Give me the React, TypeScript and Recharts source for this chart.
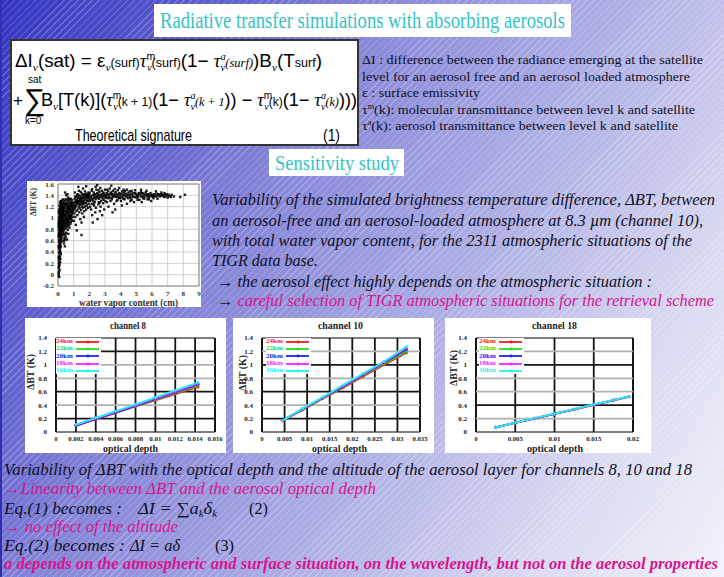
import React from 'react';
import {
  ScatterChart, Scatter, LineChart, Line, XAxis, YAxis, CartesianGrid,
  ReferenceLine, ReferenceArea, Legend,
} from 'recharts';

const SERIF = '"Liberation Serif", "DejaVu Serif", serif';
const SANS = '"Liberation Sans", Arial, sans-serif';
const PINK = '#d8148f';
const INK = '#101024';
const TEAL = '#35c4c4';

// ---------- scatter: ΔBT vs water vapor content ----------
const wvPoints: [number, number][] = [
  [0.05,0.02],[0.08,-0.04],[0.06,0.12],[0.1,0.18],[0.07,0.25],[0.12,0.31],[0.09,0.38],[0.14,0.42],[0.06,0.47],[0.11,0.52],
  [0.16,0.55],[0.08,0.58],[0.13,0.61],[0.19,0.63],[0.05,0.66],[0.1,0.68],[0.15,0.7],[0.21,0.72],[0.07,0.74],[0.12,0.76],
  [0.18,0.77],[0.24,0.79],[0.09,0.8],[0.14,0.82],[0.2,0.83],[0.27,0.84],[0.06,0.86],[0.11,0.87],[0.17,0.88],[0.23,0.9],
  [0.3,0.9],[0.08,0.92],[0.13,0.93],[0.19,0.94],[0.26,0.95],[0.33,0.96],[0.1,0.97],[0.15,0.98],[0.22,0.99],[0.29,1.0],
  [0.07,1.01],[0.12,1.02],[0.18,1.03],[0.25,1.04],[0.32,1.05],[0.09,1.06],[0.14,1.07],[0.21,1.08],[0.28,1.09],[0.35,1.1],
  [0.11,1.11],[0.17,1.12],[0.24,1.13],[0.31,1.14],[0.08,1.15],[0.15,1.16],[0.22,1.17],[0.3,1.18],[0.13,1.2],[0.2,1.21],
  [0.27,1.22],[0.18,1.24],[0.25,1.26],[0.34,1.27],[0.16,1.29],[0.1,0.85],[0.16,0.9],[0.2,0.75],[0.13,0.71],[0.06,0.79],
  [0.22,0.65],[0.17,0.6],[0.09,0.53],[0.15,0.48],[0.11,0.44],[0.18,0.36],[0.08,0.33],[0.13,0.22],[0.1,0.08],[0.07,0.15],
  [0.04,0.9],[0.05,1.1],[0.04,0.7],[0.05,0.5],[0.04,0.3],[0.06,0.2],[0.2,0.98],[0.26,1.12],[0.23,0.86],[0.28,0.97],
  [0.31,1.2],[0.19,1.15],[0.12,0.95],[0.16,1.05],[0.09,1.13],[0.14,0.78],[0.21,0.92],[0.26,0.8],[0.33,0.88],[0.29,1.25],
  [0.37,1.18],[0.35,0.94],[0.24,0.68],[0.18,0.5],[0.12,0.57],[0.07,0.4],[0.15,0.28],[0.2,0.58],[0.3,0.72],[0.05,-0.02],
  [0.06,0.95],[0.08,1.0],[0.11,0.9],[0.13,0.83],[0.17,0.96],[0.2,1.06],[0.22,1.19],[0.25,0.9],[0.27,1.01],[0.3,1.08],
  [0.32,0.82],[0.09,0.73],[0.14,0.66],[0.19,0.71],[0.23,0.76],[0.07,0.61],[0.12,0.49],[0.16,0.38],[0.1,0.27],[0.06,0.05],
  [0.13,1.27],[0.2,1.3],[0.27,1.31],[0.33,1.33],[0.1,1.22],[0.17,0.81],[0.24,0.96],[0.28,0.88],[0.05,0.84],[0.15,1.1],
  [0.38,0.55],[0.45,0.62],[0.4,0.7],[0.52,0.74],[0.36,0.78],[0.48,0.81],[0.58,0.84],[0.42,0.86],[0.55,0.88],[0.65,0.9],
  [0.39,0.92],[0.5,0.94],[0.62,0.95],[0.72,0.96],[0.44,0.98],[0.57,0.99],[0.68,1.0],[0.8,1.01],[0.37,1.02],[0.49,1.03],
  [0.6,1.04],[0.74,1.05],[0.86,1.06],[0.43,1.07],[0.54,1.08],[0.66,1.09],[0.78,1.1],[0.92,1.1],[0.4,1.12],[0.51,1.13],
  [0.63,1.14],[0.75,1.15],[0.88,1.15],[0.98,1.16],[0.46,1.17],[0.58,1.18],[0.7,1.19],[0.83,1.2],[0.95,1.2],[0.41,1.21],
  [0.53,1.22],[0.65,1.23],[0.77,1.24],[0.9,1.24],[0.48,1.26],[0.6,1.27],[0.72,1.28],[0.85,1.29],[0.56,1.31],[0.69,1.32],
  [0.81,1.34],[0.5,0.67],[0.62,0.79],[0.7,0.87],[0.46,0.9],[0.82,0.93],[0.59,0.97],[0.76,1.12],[0.93,1.02],[0.85,0.98],
  [0.55,1.11],[0.67,1.16],[0.44,1.24],[0.73,0.83],[0.39,0.6],[0.47,0.72],[0.96,1.27],[0.88,1.32],[0.64,1.36],[0.52,1.4],
  [0.34,0.75],[0.41,0.81],[0.47,0.85],[0.53,0.91],[0.61,0.88],[0.67,0.93],[0.71,1.02],[0.77,0.99],[0.84,1.04],[0.9,1.08],
  [0.97,1.12],[0.36,1.25],[0.42,1.3],[0.49,1.33],[0.57,1.24],[0.63,1.19],[0.79,1.17],[0.87,1.21],[0.94,1.17],[0.38,1.15],
  [0.45,1.05],[0.52,1.0],[0.6,1.1],[0.68,1.06],[0.74,1.21],[0.81,1.26],[0.89,1.12],[0.99,1.22],[0.43,0.95],[0.36,0.85],
  [0.41,0.65],[0.33,0.6],[0.44,0.5],[0.58,0.62],[0.66,0.72],[0.79,0.9],[0.91,0.95],[0.71,1.34],[0.6,1.42],[0.45,1.45],
  [1.02,0.95],[1.1,1.02],[1.05,1.08],[1.18,1.12],[1.25,1.15],[1.08,1.18],[1.32,1.2],[1.15,1.22],[1.4,1.23],[1.22,1.25],
  [1.5,1.25],[1.03,1.27],[1.3,1.28],[1.58,1.28],[1.12,1.3],[1.38,1.3],[1.65,1.31],[1.2,1.32],[1.46,1.33],[1.75,1.33],
  [1.07,1.34],[1.28,1.35],[1.55,1.35],[1.85,1.36],[1.16,1.37],[1.42,1.38],[1.7,1.38],[1.95,1.38],[1.35,1.4],[1.62,1.4],
  [1.88,1.41],[1.25,1.42],[1.52,1.43],[1.8,1.43],[1.45,1.46],[1.72,1.47],[1.6,1.52],[1.3,1.55],[1.14,0.88],[1.24,1.05],
  [1.36,1.1],[1.48,1.14],[1.6,1.18],[1.72,1.2],[1.84,1.22],[1.95,1.25],[1.42,0.98],[1.55,1.08],[1.68,1.12],[1.8,1.15],
  [1.92,1.18],[1.2,0.78],[1.5,0.92],[1.65,1.02],[1.78,1.27],[1.9,1.3],[1.33,1.48],[1.08,1.45],[1.98,1.34],[1.5,0.7],
  [1.04,1.15],[1.12,1.2],[1.19,1.26],[1.27,1.3],[1.34,1.25],[1.41,1.33],[1.49,1.36],[1.56,1.3],[1.63,1.35],[1.69,1.42],
  [1.77,1.38],[1.83,1.31],[1.91,1.36],[1.99,1.41],[1.06,1.22],[1.17,1.28],[1.29,1.36],[1.39,1.17],[1.53,1.2],[1.61,1.24],
  [1.74,1.26],[1.86,1.4],[1.94,1.45],[1.1,1.38],[1.22,1.4],[1.45,1.28],[1.57,1.4],[1.67,1.27],
  [2.05,1.2],[2.15,1.25],[2.1,1.32],[2.25,1.3],[2.32,1.36],[2.2,1.4],[2.4,1.33],[2.48,1.38],[2.35,1.42],[2.55,1.35],
  [2.62,1.4],[2.5,1.44],[2.7,1.37],[2.78,1.42],[2.65,1.46],[2.85,1.39],[2.92,1.43],[2.8,1.48],[2.98,1.36],[2.08,1.38],
  [2.28,1.45],[2.45,1.5],[2.6,1.28],[2.75,1.3],[2.9,1.32],[2.12,1.15],[2.3,1.22],[2.42,1.18],[2.58,1.24],[2.72,1.2],
  [2.88,1.26],[2.18,1.05],[2.38,1.1],[2.52,0.98],[2.68,1.12],[2.95,1.15],[2.22,0.92],[2.82,1.05],[2.02,1.44],[2.4,1.55],
  [2.7,1.53],[2.15,1.48],[2.55,1.42],[2.88,1.45],[2.35,1.28],
  [2.03,1.3],[2.12,1.36],[2.22,1.34],[2.31,1.4],[2.43,1.37],[2.53,1.4],[2.63,1.34],[2.74,1.4],[2.84,1.35],[2.96,1.4],
  [2.27,1.25],[2.66,1.27],[2.18,1.51],[2.58,1.49],[2.5,1.58],[1.8,1.56],
  [3.05,1.4],[3.15,1.35],[3.1,1.44],[3.25,1.38],[3.3,1.42],[3.2,1.47],[3.4,1.36],[3.45,1.41],[3.38,1.45],[3.55,1.39],
  [3.6,1.43],[3.5,1.48],[3.7,1.37],[3.75,1.42],[3.68,1.46],[3.85,1.4],[3.9,1.44],[3.82,1.49],[4.0,1.38],[4.05,1.43],
  [4.15,1.4],[4.2,1.45],[4.1,1.47],[4.3,1.39],[4.35,1.43],[4.28,1.48],[4.45,1.41],[4.5,1.45],[4.6,1.38],[4.65,1.43],
  [4.58,1.47],[4.75,1.4],[4.8,1.44],[4.9,1.37],[4.95,1.42],[3.12,1.28],[3.35,1.3],[3.58,1.25],[3.8,1.32],[4.02,1.3],
  [4.25,1.33],[4.48,1.35],[4.7,1.32],[3.22,1.2],[3.65,1.15],[4.08,1.22],[4.4,1.25],[3.48,1.1],[4.85,1.28],[3.3,1.52],
  [3.9,1.53],[4.4,1.5],[3.0,1.5],[4.7,1.48],[3.95,1.35],
  [3.08,1.37],[3.18,1.41],[3.28,1.35],[3.42,1.43],[3.53,1.37],[3.63,1.4],[3.78,1.38],[3.88,1.36],[3.98,1.42],[4.12,1.36],
  [4.23,1.41],[4.38,1.37],[4.53,1.4],[4.63,1.35],[4.78,1.37],[4.92,1.44],[3.02,1.3],[3.44,1.33],[3.74,1.3],[4.18,1.34],
  [4.62,1.3],[3.14,1.5],[3.62,1.51],[4.18,1.5],[4.92,1.49],[3.4,1.57],
  [5.05,1.4],[5.15,1.44],[5.1,1.37],[5.25,1.42],[5.3,1.46],[5.4,1.39],[5.45,1.43],[5.55,1.41],[5.6,1.45],[5.7,1.38],
  [5.75,1.42],[5.85,1.4],[5.9,1.44],[6.0,1.41],[6.05,1.37],[6.15,1.42],[6.2,1.39],[6.3,1.43],[6.4,1.4],[6.5,1.38],
  [6.55,1.42],[6.65,1.39],[6.75,1.41],[6.85,1.38],[6.95,1.4],[7.1,1.39],[7.25,1.41],[7.4,1.38],[5.2,1.32],[5.5,1.34],
  [5.8,1.33],[6.1,1.35],[6.35,1.34],[5.35,1.28],[5.65,1.48],[6.25,1.47],[6.6,1.45],[7.0,1.36],[7.8,1.37],[8.1,1.41],
  [5.95,1.3],[6.8,1.44],
  [5.02,1.36],[5.12,1.41],[5.28,1.38],[5.38,1.44],[5.52,1.37],[5.68,1.41],[5.82,1.37],[5.98,1.39],[6.12,1.4],[6.28,1.38],
  [6.45,1.42],[6.62,1.41],[6.78,1.37],[6.92,1.42],[7.05,1.41],[7.2,1.37],[5.08,1.32],[5.42,1.35],[5.72,1.33],[5.3,1.5],
];
const wvTicks = [0, 1, 2, 3, 4, 5, 6, 7, 8, 9];
const dbtScatterTicks = [-0.2, 0, 0.2, 0.4, 0.6, 0.8, 1, 1.2, 1.4, 1.6];
const scatterData = wvPoints.map(([x, y]) => ({ x, y }));

// ---------- line charts: ΔBT vs optical depth ----------
const altNames = ['24km', '22km', '20km', '18km', '16km'];
const altKeys = ['a24', 'a22', 'a20', 'a18', 'a16'];
const altColors = ['#ff1a1a', '#1ee01e', '#2020ff', '#ff20ff', '#1cf4f4'];
const dbtTicks = [0, 0.2, 0.4, 0.6, 0.8, 1, 1.2, 1.4];

const ch8Depth = [0.002, 0.004, 0.006, 0.008, 0.01, 0.012, 0.0143];
const ch8_24 = [0.10, 0.19, 0.285, 0.38, 0.47, 0.565, 0.67];
const ch8_22 = [0.10, 0.195, 0.29, 0.385, 0.48, 0.58, 0.69];
const ch8_20 = [0.09, 0.19, 0.29, 0.39, 0.49, 0.59, 0.71];
const ch8_18 = [0.105, 0.2, 0.3, 0.4, 0.5, 0.6, 0.72];
const ch8_16 = [0.11, 0.21, 0.31, 0.41, 0.515, 0.62, 0.74];
const ch8Ticks = [0, 0.002, 0.004, 0.006, 0.008, 0.01, 0.012, 0.014, 0.016];

const ch10Depth = [0.0045, 0.009, 0.0135, 0.018, 0.0225, 0.027, 0.032];
const ch10_24 = [0.17, 0.33, 0.5, 0.66, 0.83, 1.0, 1.18];
const ch10_22 = [0.17, 0.335, 0.505, 0.67, 0.845, 1.015, 1.2];
const ch10_20 = [0.17, 0.34, 0.51, 0.68, 0.855, 1.03, 1.23];
const ch10_18 = [0.17, 0.345, 0.515, 0.69, 0.865, 1.04, 1.25];
const ch10_16 = [0.17, 0.35, 0.52, 0.7, 0.875, 1.05, 1.27];
const ch10Ticks = [0, 0.005, 0.01, 0.015, 0.02, 0.025, 0.03, 0.035];

const ch18Depth = [0.0025, 0.005, 0.0075, 0.01, 0.0125, 0.015, 0.0175, 0.0195];
const ch18_24 = [0.07, 0.135, 0.2, 0.27, 0.335, 0.405, 0.47, 0.525];
const ch18_22 = [0.07, 0.137, 0.203, 0.27, 0.337, 0.407, 0.472, 0.527];
const ch18_20 = [0.07, 0.138, 0.204, 0.271, 0.338, 0.408, 0.473, 0.528];
const ch18_18 = [0.07, 0.139, 0.205, 0.272, 0.339, 0.409, 0.474, 0.529];
const ch18_16 = [0.07, 0.14, 0.206, 0.273, 0.34, 0.41, 0.475, 0.53];
const ch18Ticks = [0, 0.005, 0.01, 0.015, 0.02];

const buildRows = (depth: number[], series: number[][]) =>
  depth.map((x, i) => {
    const row: Record<string, number> = { x };
    altKeys.forEach((k, j) => { row[k] = series[j][i]; });
    return row;
  });

const ch8Rows = buildRows(ch8Depth, [ch8_24, ch8_22, ch8_20, ch8_18, ch8_16]);
const ch10Rows = buildRows(ch10Depth, [ch10_24, ch10_22, ch10_20, ch10_18, ch10_16]);
const ch18Rows = buildRows(ch18Depth, [ch18_24, ch18_22, ch18_20, ch18_18, ch18_16]);

const tick7 = { fontSize: 7, fontWeight: 700, fontFamily: SERIF, fill: '#333' };
const tickY = { fontSize: 7, fontWeight: 700, fontFamily: SERIF, fill: '#222' };

const XTick = (p: any) => {
  const s = String(p.payload.value);
  return (
    <text x={p.x} y={p.y + 5} textAnchor="middle" fontSize={7} fontWeight={700} fontFamily={SERIF}
      fill="#222" textLength={s.length * 3.05} lengthAdjust="spacingAndGlyphs">{s}</text>
  );
};

const renderDot = (p: any) => (
  <rect x={p.cx - 1.2} y={p.cy - 1.2} width={2.4} height={2.4} fill="#000" fillOpacity={0.88} />
);

function ScatterPanel() {
  return (
    <ScatterChart width={174} height={126} margin={{ top: 3, right: 2, bottom: 6, left: 1 }}>
      <CartesianGrid stroke="#c4c4c4" strokeWidth={0.8} />
      <XAxis type="number" dataKey="x" domain={[0, 9]} ticks={wvTicks} interval={0}
        axisLine={false} tickLine={false} height={15} tickSize={2} tickMargin={3} tick={tick7} />
      <YAxis type="number" dataKey="y" domain={[-0.2, 1.6]} ticks={dbtScatterTicks} interval={0}
        axisLine={false} tickLine={false} width={30} tickSize={2} tickMargin={2} tick={tick7} />
      <ReferenceArea x1={0} x2={9} y1={-0.2} y2={1.6} fill="none" stroke="#8a8a8a" strokeWidth={1} />
      <Scatter data={scatterData} shape={renderDot} isAnimationActive={false} />
    </ScatterChart>
  );
}

function AltLegend() {
  return (
    <div style={{ background: '#fff', padding: '0 2px 0 0', lineHeight: 1 }}>
      {altNames.map((n, i) => (
        <div key={n} style={{ display: 'flex', alignItems: 'center', height: 7.3 }}>
          <span style={{ color: altColors[i], fontFamily: SERIF, fontWeight: 700, fontSize: 7, width: 17, display: 'inline-block' }}>{n}</span>
          <svg width={23} height={6} style={{ marginLeft: 3, display: 'block' }}>
            <line x1={0} y1={3} x2={23} y2={3} stroke={altColors[i]} strokeWidth={1.8} />
            <circle cx={12} cy={3} r={1.4} fill={altColors[i]} />
          </svg>
        </div>
      ))}
    </div>
  );
}

type PanelProps = {
  rows: Record<string, number>[]; xMax: number; xTicks: number[]; width: number;
  yWidth: number; right: number; darkY: number[]; legendLeft: number;
};

function ChannelPanel({ rows, xMax, xTicks, width, yWidth, right, darkY, legendLeft }: PanelProps) {
  return (
    <LineChart width={width} height={135} data={rows} margin={{ top: 20, right, bottom: 6, left: 0 }}>
      <CartesianGrid horizontal={false} stroke="#151515" strokeWidth={1.8} />
      {dbtTicks.slice(1, -1).map((v) => (
        <ReferenceLine key={v} y={v} stroke={darkY.includes(v) ? '#151515' : '#b0b0b0'} strokeWidth={1.8} />
      ))}
      <ReferenceArea x1={0} x2={xMax} y1={0} y2={1.4} fill="none" stroke="#000" strokeWidth={1} />
      <XAxis type="number" dataKey="x" domain={[0, xMax]} ticks={xTicks} interval={0}
        axisLine={false} tickLine={false} height={15} tickSize={2} tickMargin={2} tick={<XTick />} />
      <YAxis type="number" domain={[0, 1.4]} ticks={dbtTicks} interval={0}
        axisLine={false} tickLine={false} width={yWidth} tickSize={4} tickMargin={5} tick={tickY} />
      <Legend layout="vertical" align="center" verticalAlign="middle" content={() => <AltLegend />}
        wrapperStyle={{ left: legendLeft, top: 20, width: 'auto', height: 'auto' }} />
      {altKeys.map((k, i) => (
        <Line key={k} type="linear" dataKey={k} stroke={altColors[i]} strokeWidth={1.8}
          dot={{ r: 1.2, fill: altColors[i], stroke: altColors[i], strokeWidth: 0.5 }}
          isAnimationActive={false} />
      ))}
    </LineChart>
  );
}

// ---------- text helpers ----------
type TP = {
  x: number; y: number; w?: number; size: number; fill?: string; italic?: boolean;
  bold?: boolean; family?: string; children: React.ReactNode; rotate?: boolean;
};
function T({ x, y, w, size, fill = INK, italic, bold, family = SERIF, children, rotate }: TP) {
  return (
    <text x={x} y={y} fontSize={size} fill={fill} fontFamily={family}
      fontStyle={italic ? 'italic' : 'normal'} fontWeight={bold ? 700 : 400}
      textLength={w} lengthAdjust={w ? 'spacingAndGlyphs' : undefined}
      transform={rotate ? `rotate(-90 ${x} ${y})` : undefined}>
      {children}
    </text>
  );
}

const nu = (dy: number) => (
  <tspan fontFamily={SERIF} fontStyle="italic" fontSize={11} dy={dy}>ν</tspan>
);

function Overlay() {
  const tauMN = (key: string) => [
    <tspan key={key + 't'} fontFamily={SERIF} fontStyle="italic" fontSize={18} dy={0}>τ</tspan>,
    <tspan key={key + 'm'} fontSize={10} dy={-7}>m</tspan>,
    <tspan key={key + 'n'} fontFamily={SERIF} fontStyle="italic" fontSize={10} dx={-8} dy={11}>ν</tspan>,
  ];
  const tauAN = (key: string) => [
    <tspan key={key + 't'} fontFamily={SERIF} fontStyle="italic" fontSize={18} dy={0}>τ</tspan>,
    <tspan key={key + 'a'} fontFamily={SERIF} fontStyle="italic" fontSize={10} dy={-7}>a</tspan>,
    <tspan key={key + 'n'} fontFamily={SERIF} fontStyle="italic" fontSize={10} dx={-5} dy={11}>ν</tspan>,
  ];
  return (
    <svg width={724} height={577} style={{ position: 'absolute', left: 0, top: 0, pointerEvents: 'none' }}>
      {/* title */}
      <rect x={154} y={4} width={417} height={33} fill="#fff" />
      <T x={160} y={28} w={405} size={23} fill={TEAL}>Radiative transfer simulations with absorbing aerosols</T>

      {/* equation box */}
      <rect x={11} y={40} width={347} height={105} fill="#fff" stroke="#333" strokeWidth={2} />
      <text x={15} y={67} fontFamily={SANS} fontSize={18} fill="#000" textLength={307} lengthAdjust="spacingAndGlyphs">
        ΔI{nu(4)}<tspan dy={-4}>(sat) = ε</tspan>{nu(4)}<tspan dy={-4} fontSize={12}>(surf)</tspan>
        {tauMN('a')}<tspan dy={-4} fontSize={12}>(surf)</tspan><tspan>(1− </tspan>
        {tauAN('b')}<tspan dy={-4} fontFamily={SERIF} fontStyle="italic" fontSize={12}>(surf)</tspan>
        <tspan>)B</tspan>{nu(4)}<tspan dy={-4}>(T</tspan><tspan fontSize={12}>surf</tspan><tspan>)</tspan>
      </text>
      <T x={13} y={106} size={17} family={SANS} fill="#000">+</T>
      <T x={24} y={110} size={30} family={SANS} fill="#000">∑</T>
      <T x={28} y={83} size={10} family={SANS} fill="#000">sat</T>
      <T x={25} y={124} size={10} family={SANS} fill="#000">k=0</T>
      <text x={41} y={106} fontFamily={SANS} fontSize={18} fill="#000" textLength={316} lengthAdjust="spacingAndGlyphs">
        B{nu(4)}<tspan dy={-4}>[T(k)](</tspan>
        {tauMN('c')}<tspan dy={-4} fontSize={12}>(k + 1)</tspan><tspan>(1− </tspan>
        {tauAN('d')}<tspan dy={-4} fontFamily={SERIF} fontStyle="italic" fontSize={12}>(k + 1</tspan>
        <tspan>)) − </tspan>
        {tauMN('e')}<tspan dy={-4} fontSize={12}>(k)</tspan><tspan>(1− </tspan>
        {tauAN('f')}<tspan dy={-4} fontFamily={SERIF} fontStyle="italic" fontSize={12}>(k)</tspan>
        <tspan>)))</tspan>
      </text>
      <T x={75} y={141} w={117} size={17} family={SANS} fill="#000">Theoretical signature</T>
      <T x={323} y={141} w={17} size={17} family={SANS} fill="#000">(1)</T>

      {/* definitions */}
      <T x={362} y={64} w={341} size={13.5}>ΔI : difference between the radiance emerging at the satellite</T>
      <T x={362} y={80.5} w={328} size={13.5}>level for an aerosol free and an aerosol loaded atmosphere</T>
      <T x={362} y={97} w={118} size={13.5}>ε : surface emissivity</T>
      <text x={362} y={113.5} fontSize={13.5} fill={INK} fontFamily={SERIF} textLength={333} lengthAdjust="spacingAndGlyphs">
        τ<tspan fontSize={8} dy={-5}>m</tspan><tspan dy={5}>(k): molecular transmittance between level k and satellite</tspan>
      </text>
      <text x={362} y={130} fontSize={13.5} fill={INK} fontFamily={SERIF} textLength={316} lengthAdjust="spacingAndGlyphs">
        τ<tspan fontSize={8} dy={-5}>a</tspan><tspan dy={5}>(k): aerosol transmittance between level k and satellite</tspan>
      </text>

      {/* sensitivity study */}
      <rect x={269} y={149} width={135} height={27} fill="#fff" />
      <T x={275} y={170} w={124} size={22} fill={TEAL}>Sensitivity study</T>

      {/* scatter labels */}
      <T x={79} y={306} w={99} size={10} bold fill="#333">water vapor content (cm)</T>
      <T x={36} y={216} w={28} size={9} bold fill="#333" rotate>ΔBT (K)</T>

      {/* middle text */}
      <T x={212} y={205} w={503} size={16.5} italic>Variability of the simulated brightness temperature difference, ΔBT, between</T>
      <T x={212} y={226} w={491} size={16.5} italic>an aerosol-free and an aerosol-loaded atmosphere at 8.3 µm (channel 10),</T>
      <T x={212} y={246} w={480} size={16.5} italic>with total water vapor content, for the 2311 atmospheric situations of the</T>
      <T x={212} y={266} w={106} size={16.5} italic>TIGR data base.</T>
      <T x={217} y={287} w={435} size={16.5} italic>→ the aerosol effect highly depends on the atmospheric situation :</T>
      <text x={217} y={306} fontSize={16.5} fontFamily={SERIF} fontStyle="italic" fill={INK} textLength={497} lengthAdjust="spacingAndGlyphs">
        →<tspan fill={PINK}> careful selection of TIGR atmospheric situations for the retrieval scheme</tspan>
      </text>

      {/* channel chart labels */}
      <T x={110} y={329} w={36} size={9.5} bold fill="#222">channel 8</T>
      <T x={318} y={329} w={45} size={9.5} bold fill="#222">channel 10</T>
      <T x={532} y={329} w={45} size={9.5} bold fill="#222">channel 18</T>
      <T x={103} y={452} w={55} size={10.5} bold fill="#222">optical depth</T>
      <T x={312} y={452} w={55} size={10.5} bold fill="#222">optical depth</T>
      <T x={527} y={452} w={56} size={10.5} bold fill="#222">optical depth</T>
      <T x={34} y={390} w={36} size={10} bold fill="#222" rotate>ΔBT (K)</T>
      <T x={246} y={391} w={36} size={10} bold fill="#222" rotate>ΔBT (K)</T>
      <T x={457} y={386} w={36} size={10} bold fill="#222" rotate>ΔBT (K)</T>

      {/* bottom text */}
      <T x={4} y={475} w={688} size={17} italic>Variability of  ΔBT with the optical depth and the altitude of the aerosol layer for channels 8, 10 and 18</T>
      <T x={4} y={494} w={372} size={17} italic fill={PINK}>→Linearity between ΔBT and the aerosol optical depth</T>
      <T x={4} y={514} w={118} size={17} italic>Eq.(1) becomes :</T>
      <text x={138} y={514} fontSize={17} fontFamily={SERIF} fontStyle="italic" fill={INK} textLength={79} lengthAdjust="spacingAndGlyphs">
        ΔI = ∑a<tspan fontSize={10} dy={3}>k</tspan><tspan dy={-3}>δ</tspan><tspan fontSize={10} dy={3}>k</tspan>
      </text>
      <T x={249} y={514} w={19} size={17}>(2)</T>
      <T x={4} y={532} w={174} size={17} italic fill={PINK}>→ no effect of the altitude</T>
      <T x={4} y={551} w={121} size={17} italic>Eq.(2) becomes :</T>
      <T x={130} y={551} w={50} size={17} italic>ΔI = aδ</T>
      <T x={215} y={551} w={19} size={17}>(3)</T>
      <T x={4} y={569} w={714} size={16.5} italic bold fill={PINK}>a depends on the atmospheric and surface situation, on the wavelength, but not on the aerosol properties</T>
    </svg>
  );
}

export default function App() {
  const bg =
    'repeating-linear-gradient(135deg, rgba(255,255,255,0.22) 0px, rgba(255,255,255,0.22) 1px, rgba(255,255,255,0) 1px, rgba(255,255,255,0) 5px),' +
    'linear-gradient(120deg, #3434c2 0%, #5e5ece 20%, #8484d8 35%, #b0b0e6 60%, #dadaf2 82%, #f2f2fa 100%)';
  const box = (left: number, top: number, width: number, height: number): React.CSSProperties => ({
    position: 'absolute', left, top, width, height, background: '#fff',
  });
  return (
    <div style={{ position: 'absolute', left: 0, top: 0, width: 724, height: 577, overflow: 'hidden', background: bg }}>
      <div style={{ position: 'absolute', left: 0, top: 0, width: 2, height: 577, background: '#3030b0' }} />
      <div style={box(27, 181, 174, 126)}><ScatterPanel /></div>
      <div style={box(25, 318, 201, 135)}>
        <ChannelPanel rows={ch8Rows} xMax={0.016} xTicks={ch8Ticks} width={201} yWidth={31} right={11}
          darkY={[0.2, 0.6, 1.2]} legendLeft={31} />
      </div>
      <div style={box(233, 318, 201, 135)}>
        <ChannelPanel rows={ch10Rows} xMax={0.035} xTicks={ch10Ticks} width={201} yWidth={29} right={14}
          darkY={[0.2, 0.6, 1]} legendLeft={33} />
      </div>
      <div style={box(445, 318, 206, 135)}>
        <ChannelPanel rows={ch18Rows} xMax={0.02} xTicks={ch18Ticks} width={206} yWidth={31} right={18}
          darkY={[0.4, 1]} legendLeft={34} />
      </div>
      <Overlay />
    </div>
  );
}
